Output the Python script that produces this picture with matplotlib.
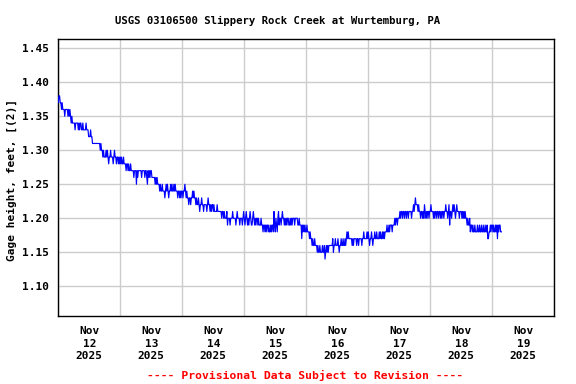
import matplotlib
matplotlib.use("Agg")
import matplotlib.pyplot as plt
import matplotlib.dates as mdates
import numpy as np
import datetime as dt

title = "USGS 03106500 Slippery Rock Creek at Wurtemburg, PA"
ylabel = "Gage height, feet, [(2)]"
footer = "---- Provisional Data Subject to Revision ----"
day_labels = ["Nov\n12\n2025", "Nov\n13\n2025", "Nov\n14\n2025", "Nov\n15\n2025",
              "Nov\n16\n2025", "Nov\n17\n2025", "Nov\n18\n2025", "Nov\n19\n2025"]
yticks = [1.10, 1.15, 1.20, 1.25, 1.30, 1.35, 1.40, 1.45]

# 15-minute gage height readings (hundredths of a foot), one list per day
nov12 = [137,138,138,137, 137,136,137,136, 136,136,135,136, 136,136,136,135,
         136,135,136,135, 134,135,134,134, 134,134,133,134, 134,134,134,133,
         134,133,134,134, 133,133,134,133, 133,133,133,134, 133,133,133,132,
         132,132,133,132, 132,131,131,131, 131,131,131,131, 131,131,131,131,
         131,130,131,130, 130,129,130,129, 129,129,130,129, 130,129,128,129,
         129,130,129,129, 129,128,129,130, 129,129,128,129, 129,128,129,128]
nov13 = [129,128,129,128, 128,129,128,128, 128,127,128,128, 127,128,127,127,
         128,127,127,127, 127,126,127,127, 127,125,127,126, 127,127,127,127,
         127,126,127,127, 127,127,126,127, 127,126,125,127, 126,127,126,127,
         127,126,126,126, 126,126,125,126, 125,126,125,125, 125,124,125,124,
         124,125,124,124, 124,123,124,125, 124,125,124,123, 124,124,125,124,
         125,124,124,125, 124,125,124,124, 124,123,124,124, 123,124,123,124]
nov14 = [124,123,124,124, 125,124,123,124, 123,123,122,123, 123,122,123,123,
         124,123,124,123, 123,122,123,122, 122,123,122,121, 122,122,123,122,
         122,121,122,122, 122,122,121,122, 123,122,122,121, 122,121,122,122,
         121,122,121,121, 121,121,122,121, 121,121,121,121, 121,120,121,121,
         120,121,120,120, 120,121,119,120, 120,120,119,120, 120,120,121,120,
         120,120,120,119, 120,121,120,120, 120,119,120,120, 120,119,120,121]
nov15 = [120,119,120,121, 120,119,120,119, 120,121,120,119, 119,120,121,120,
         119,120,119,120, 120,119,120,119, 119,119,120,119, 119,118,119,119,
         118,119,118,119, 119,118,119,118, 118,119,118,119, 119,118,121,119,
         118,120,119,118, 120,121,119,120, 120,119,120,121, 120,120,119,120,
         119,120,119,120, 120,119,119,120, 119,120,119,120, 120,120,119,120,
         120,120,120,119, 119,120,119,119, 119,117,119,118, 119,118,119,118]
nov16 = [118,119,118,118, 118,117,118,117, 117,116,117,116, 116,117,116,116,
         116,115,116,115, 115,116,115,115, 115,116,115,115, 116,114,115,116,
         115,116,115,116, 116,116,116,116, 116,117,115,116, 116,117,116,116,
         116,117,116,115, 116,116,117,116, 116,117,116,116, 117,116,117,118,
         117,118,117,117, 117,117,117,116, 117,116,117,117, 117,117,116,117,
         117,116,117,117, 117,117,116,117, 117,118,117,117, 117,117,118,117]
nov17 = [118,117,116,117, 117,118,117,116, 117,117,118,117, 117,118,117,117,
         117,118,117,118, 117,117,118,117, 118,117,118,118, 118,119,118,118,
         119,118,119,119, 119,118,119,119, 119,120,119,120, 120,119,120,120,
         120,121,120,121, 121,120,121,121, 120,121,121,120, 121,121,120,121,
         121,121,121,120, 121,121,122,121, 122,123,122,122, 122,121,122,121,
         121,120,121,121, 120,121,120,122, 121,120,121,120, 121,121,120,121]
nov18 = [121,122,121,121, 121,120,121,120, 121,121,120,121, 121,120,121,121,
         120,121,120,121, 121,120,121,121, 122,121,121,120, 121,122,119,121,
         121,120,121,122, 121,122,121,120, 121,122,121,121, 121,120,121,121,
         121,120,121,120, 121,120,121,120, 120,119,120,119, 119,120,118,119,
         119,118,119,118, 118,119,118,118, 118,119,118,118, 119,118,118,119,
         118,118,119,118, 118,119,118,118, 119,117,117,118, 118,119,118,119]
nov19 = [119,118,119,118, 118,119,118,119, 117,119,118,119, 119,118,118]

readings = nov12 + nov13 + nov14 + nov15 + nov16 + nov17 + nov18 + nov19
gage = np.array(readings) / 100.0
start = dt.datetime(2025, 11, 12)
times = [start + dt.timedelta(minutes=15 * i) for i in range(len(gage))]

fig = plt.figure(figsize=(5.76, 3.84), dpi=100)
ax = fig.add_axes([0.1012, 0.1771, 0.8611, 0.7206])

ax.plot(times, gage, color="#0000ff", lw=0.85, zorder=3)

ax.set_xlim(dt.datetime(2025, 11, 12), dt.datetime(2025, 11, 20))
ax.set_ylim(1.0563, 1.4632)

ax.xaxis.set_major_locator(mdates.DayLocator())
ax.xaxis.set_major_formatter(plt.NullFormatter())
mid = [mdates.date2num(dt.datetime(2025, 11, 12 + i, 12)) for i in range(8)]
ax.set_xticks(mid, minor=True)
ax.set_xticklabels(day_labels, minor=True)
ax.tick_params(axis="x", which="both", length=0, pad=7)
ax.tick_params(axis="y", length=0, pad=7)

ax.set_yticks(yticks)
ax.set_yticklabels([f"{v:.2f}" for v in yticks])

fam = ["DejaVu Sans Mono"]
for lbl in ax.get_xticklabels(minor=True):
    lbl.set_fontfamily(fam); lbl.set_fontweight("bold"); lbl.set_fontsize(8)
    lbl.set_linespacing(1.35)
for lbl in ax.get_yticklabels():
    lbl.set_fontfamily(fam); lbl.set_fontweight("bold"); lbl.set_fontsize(8)

ax.grid(True, which="major", color="#cccccc", lw=1.0, zorder=0)
for s in ax.spines.values():
    s.set_color("black"); s.set_linewidth(1.0)

fig.text(277.5 / 576, 1 - 20.5 / 384, title, ha="center", va="center",
         fontfamily=fam, fontweight="bold", fontsize=7.7)
fig.text(12 / 576, 1 - 180 / 384, ylabel, ha="center", va="center", rotation=90,
         fontfamily=fam, fontweight="bold", fontsize=8)
fig.text(305.5 / 576, 1 - 375.5 / 384, footer, ha="center", va="center",
         color="#ff0000", fontfamily=fam, fontweight="bold", fontsize=8.2)

fig.savefig("out.png", dpi=100)
